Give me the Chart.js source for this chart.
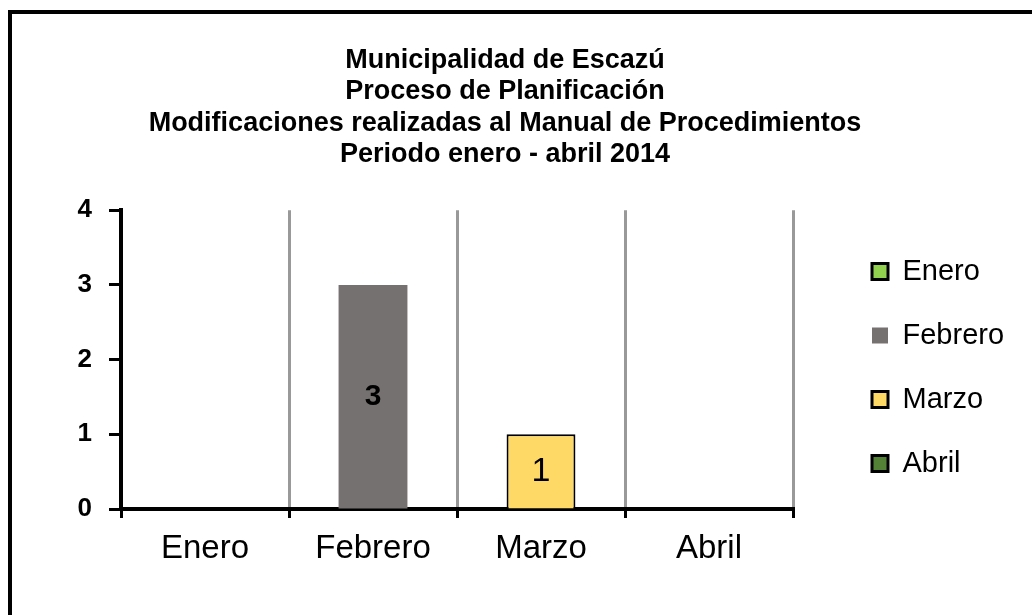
<!DOCTYPE html>
<html>
<head>
<meta charset="utf-8">
<script src="https://cdn.jsdelivr.net/npm/chart.js@4/dist/chart.umd.min.js"></script>
<style>
  body { margin: 0; background: #fff; }
  #wrap { position: relative; width: 1032px; height: 615px; overflow: hidden; }
  #frame { position: absolute; left: 8px; top: 10px; width: 1100px; height: 700px;
           border-top: 4px solid #000; border-left: 4px solid #000; pointer-events: none; }
</style>
</head>
<body>
<div id="wrap">
  <canvas id="chart" width="1032" height="615"></canvas>
  <div id="frame"></div>
</div>
<script>
// data
const months = ['Enero', 'Febrero', 'Marzo', 'Abril'];
const modificaciones = [0, 3, 1, 0];
const yTicks = [0, 1, 2, 3, 4];
const titleLines = [
  'Municipalidad de Escazú',
  'Proceso de Planificación',
  'Modificaciones realizadas al Manual de Procedimientos',
  'Periodo enero - abril 2014'
];

// styles per month
const barColors = ['#92D050', '#767171', '#FFD966', '#538135'];
const barBorders = [2, 0, 2, 2];
const valueFonts = ['bold 30px "Liberation Sans"', 'bold 30px "Liberation Sans"', '34px "Liberation Sans"', '34px "Liberation Sans"'];

Chart.defaults.font.family = '"Liberation Sans", Arial, sans-serif';
Chart.defaults.color = '#000';

// value labels in the middle of each bar
const valueLabels = {
  id: 'valueLabels',
  afterDatasetsDraw(chart) {
    const ctx = chart.ctx;
    const meta = chart.getDatasetMeta(0);
    meta.data.forEach((bar, i) => {
      const v = modificaciones[i];
      if (!v) return;
      ctx.save();
      ctx.font = valueFonts[i];
      ctx.fillStyle = '#000';
      ctx.textAlign = 'center';
      ctx.textBaseline = 'middle';
      ctx.fillText(String(v), bar.x, (bar.y + bar.base) / 2);
      ctx.restore();
    });
  }
};

// legend sits to the right of the plot with a fixed width
const legendPlace = {
  id: 'legendPlace',
  beforeInit(chart) {
    const lg = chart.legend;
    const fit = lg.fit;
    lg.fit = function () { fit.call(this); this.width = 217; };
  },
  afterLayout(chart) {
    const lg = chart.legend;
    lg.left = 837;
    lg.top = 222;
    lg.bottom = 615;
  }
};

new Chart(document.getElementById('chart'), {
  type: 'bar',
  data: {
    labels: months,
    datasets: [{
      label: 'Modificaciones',
      data: modificaciones,
      backgroundColor: barColors,
      borderColor: '#000',
      borderWidth: barBorders,
      categoryPercentage: 1,
      barPercentage: 0.41
    }]
  },
  options: {
    responsive: false,
    animation: false,
    devicePixelRatio: 1,
    layout: { padding: { left: 0, right: 22, top: 0, bottom: 0 } },
    plugins: {
      title: {
        display: true,
        text: titleLines,
        font: { size: 27, weight: 'bold', lineHeight: 1.16 },
        color: '#000',
        padding: { top: 45, bottom: 40 }
      },
      legend: {
        position: 'right',
        align: 'start',
        labels: {
          boxWidth: 16,
          boxHeight: 16,
          padding: 35,
          font: { size: 29 },
          color: '#000',
          generateLabels: () => months.map((m, i) => ({
            text: m,
            fillStyle: barColors[i],
            strokeStyle: '#000',
            lineWidth: barBorders[i] ? 3 : 0,
            hidden: false,
            index: i
          }))
        }
      },
      tooltip: { enabled: false }
    },
    scales: {
      x: {
        afterFit(scale) { scale.height = 106; },
        grid: {
          offset: true,
          color: '#999',
          lineWidth: 3,
          drawTicks: true,
          tickLength: 9,
          tickColor: '#000',
          tickWidth: 3
        },
        border: { color: '#000', width: 4 },
        ticks: { font: { size: 33 }, color: '#000', padding: 11 }
      },
      y: {
        min: yTicks[0],
        max: yTicks[yTicks.length - 1],
        afterFit(scale) { scale.width = 121; },
        afterBuildTicks(scale) { scale.ticks = yTicks.map(v => ({ value: v })); },
        grid: {
          drawOnChartArea: false,
          drawTicks: true,
          tickLength: 12,
          tickColor: '#000',
          tickWidth: 3
        },
        border: { color: '#000', width: 4 },
        ticks: { font: { size: 26, weight: 'bold' }, color: '#000', padding: 17 }
      }
    }
  },
  plugins: [valueLabels, legendPlace]
});
</script>
</body>
</html>
